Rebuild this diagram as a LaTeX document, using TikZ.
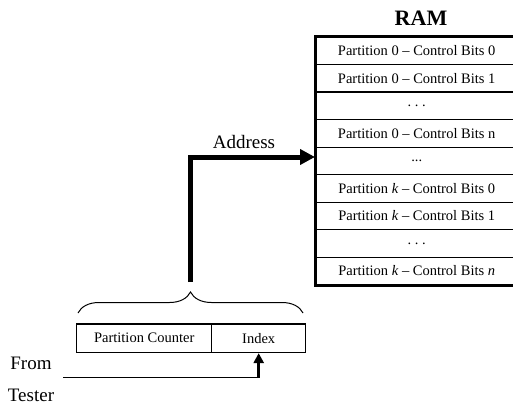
\documentclass[tikz,border=0pt]{standalone}
\usepackage{fontspec}
\setmainfont{Liberation Serif}
\usetikzlibrary{arrows.meta,decorations.pathreplacing}
\begin{document}
\begin{tikzpicture}[x=1pt,y=-1pt,
  row/.style={draw, line width=1.4pt, minimum width=202pt, minimum height=27.5pt, inner sep=0pt, anchor=north west, font=\fontsize{14.5}{17}\selectfont},
  regbox/.style={draw, line width=1.4pt, minimum height=28.4pt, inner sep=0pt, anchor=north west, font=\fontsize{14.5}{17}\selectfont},
  lbl/.style={font=\fontsize{19}{22}\selectfont, inner sep=0pt},
  bigarrow/.style={line width=5pt, -{Triangle[length=15pt,width=15pt]}},
  smallarrow/.style={line width=3pt, -{Triangle[length=10pt,width=10pt]}}]
\useasboundingbox (0,0) rectangle (513,417);
% RAM
\node[font=\fontsize{22}{26}\selectfont\bfseries, inner sep=0pt] (ram) at (421,18) {RAM};
\node[row] (r0) at (315,36.5) {Partition 0 -- Control Bits 0};
\node[row] (r1) at (315,64) {Partition 0 -- Control Bits 1};
\node[row] (r2) at (315,91.5) {.\ .\ .};
\node[row] (r3) at (315,119) {Partition 0 -- Control Bits n};
\node[row] (r4) at (315,146.5) {...};
\node[row] (r5) at (315,174) {Partition \textit{k} -- Control Bits 0};
\node[row] (r6) at (315,201.5) {Partition \textit{k} -- Control Bits 1};
\node[row] (r7) at (315,229) {.\ .\ .};
\node[row] (r8) at (315,256.5) {Partition \textit{k} -- Control Bits \textit{n}};
\draw[line width=3pt] (r0.north west) rectangle (r8.south east);
% register
\node[regbox, minimum width=135pt] (pc) at (76,323.3) {Partition Counter};
\node[regbox, minimum width=94pt] (idx) at (211,323.3) {Index};
% brace
\coordinate (bl) at (78,313);
\coordinate (br) at (303,313);
\draw[decorate, decoration={brace, amplitude=21pt}, line width=1pt] (bl) -- (br);
% address arrow
\coordinate (btip) at (190,282);
\coordinate (bend) at (190,157);
\draw[bigarrow] (btip) -- (bend) -- (bend -| r4.west);
\node[lbl] (addr) at (244,142) {Address};
% from tester
\node[lbl] (from) at (31,363) {From};
\node[lbl] (tester) at (31,395) {Tester};
\coordinate (tstart) at (63,377.7);
\coordinate (tcorner) at (idx.south |- tstart);
\draw[line width=1.3pt] (tstart) -- (tcorner);
\draw[smallarrow] (tcorner) -- (idx.south);
\end{tikzpicture}
\end{document}
